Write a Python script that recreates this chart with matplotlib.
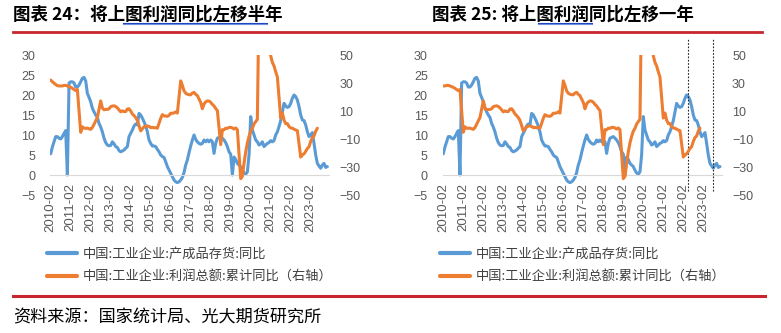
import numpy as np
import pandas as pd
import matplotlib
matplotlib.use("Agg")
import matplotlib.pyplot as plt
from matplotlib.lines import Line2D

plt.rcParams['font.family'] = ['Liberation Sans', 'Noto Sans CJK SC', 'DejaVu Sans']
plt.rcParams['axes.unicode_minus'] = True
CJK = ['Noto Sans CJK SC', 'DejaVu Sans']

# ---------------- data ----------------
# 中国:工业企业:产成品存货:同比, monthly 2010-02 .. 2023-12
inv_start = "2010-02"
inventory_yoy = [
    5.3, 7.0, 8.3, 9.6, 9.6, 9.2, 9.0, 9.6, 10.4, 11.1,
    0.0, 23.0,
    23.3, 23.3, 23.0, 22.0, 22.0, 22.5, 23.3, 24.2, 24.4, 23.5, 20.4, 19.4,
    18.3, 16.7, 15.8, 15.0, 14.4, 12.9, 12.0, 10.8, 9.2, 8.1, 7.5, 7.3,
    7.4, 8.3, 7.8, 7.1, 6.9, 6.1, 5.8, 6.0, 6.25, 6.7, 7.1, 9.6,
    10.4, 11.25, 12.25, 12.75, 12.5, 15.4, 15.0, 14.2, 13.3, 12.25, 10.8, 8.75,
    7.9, 7.25, 7.25, 7.1, 6.4, 5.8, 5.0, 4.6, 4.4, 3.3, 2.1, 1.25,
    0.4, -0.4, -1.25, -1.7, -1.9, -1.7, -1.25, -0.6, 0.6, 2.5, 3.75, 5.6,
    7.25, 8.75, 10.0, 8.9, 8.3, 7.9, 7.7, 7.9, 8.75, 8.3, 8.75, 8.3,
    8.75, 8.3, 5.4, 7.9, 9.2, 9.4, 9.6, 9.2, 8.75, 8.1, 7.1, 5.8,
    5.2, 0.0, 4.5, 3.9, 2.9, 2.5, 2.1, 1.2, 0.5, 0.2, 0.8, 5.0,
    14.6, 11.25, 10.0, 8.75, 8.3, 7.5, 7.75, 8.3, 7.1, 7.5, 7.9, 8.1,
    8.6, 8.3, 8.6, 10.0, 10.8, 12.1, 13.6, 15.8, 17.9, 17.25, 16.9, 17.1,
    17.9, 19.2, 20.0, 19.6, 18.75, 17.1, 15.0, 13.75, 13.6, 12.5, 10.8, 9.6,
    10.0, 10.6, 7.9, 5.0, 2.9, 2.25, 1.7, 2.5, 2.9, 1.9, 2.1,
]

# 中国:工业企业:利润总额:累计同比, monthly 2010-08 .. 2023-12 (January not published)
nan = np.nan
profit_start = "2010-08"
profit_yoy = [
    32.1, 31.0, 29.8, 29.0, 28.1,
    27.9, 27.9, 27.9, 28.3, 28.3, 27.9, 27.4, 26.9, 26.2, 25.3, 24.6, 25.4,
    nan, -5.2, -1.3, -2.2, -2.4, -2.2, -2.7, -3.1, -1.8, 0.5, 3.0, 5.3,
    nan, 17.2, 12.1, 10.9, 11.1, 11.1, 11.6, 13.1, 13.5, 13.7, 13.2, 12.2,
    nan, 9.4, 10.1, 9.6, 9.6, 11.4, 11.6, 10.0, 7.9, 6.7, 5.3, 3.3,
    nan, -4.2, -2.7, -1.3, -0.8, -0.7, -1.0, -1.9, -1.7, -2.0, -1.9, -2.3,
    nan, 4.8, 7.4, 6.5, 6.4, 6.2, 6.9, 8.4, 8.4, 8.6, 9.4, 8.5,
    nan, 31.5, 28.3, 24.4, 22.7, 22.0, 21.6, 21.6, 22.8, 23.3, 21.9, 21.0,
    nan, 16.1, 11.6, 15.0, 16.5, 17.2, 17.1, 16.2, 14.7, 13.6, 11.8, 10.3,
    nan, -14.0, -3.3, -3.4, -2.3, -2.4, -1.7, -1.7, -2.1, -2.9, -2.1, -3.3,
    nan, -38.3, -36.7, -27.4, -19.3, -12.8, -8.1, -4.4, -2.4, 0.7, 2.4, 4.1,
    nan, 178.9, 137.3, 106.0, 83.4, 66.9, 57.3, 49.5, 44.7, 42.2, 38.0, 34.3,
    nan, 5.0, 8.5, 3.5, 1.0, 1.0, -1.1, -2.1, -2.3, -3.0, -3.6, -4.0,
    nan, -22.9, -21.4, -20.6, -18.8, -16.8, -15.5, -11.7, -9.0, -7.8, -4.4, -2.3,
]

tick_labels = [f"{y}-02" for y in range(2010, 2024)]
shift_months = [6, 12]          # 左移半年 / 左移一年
marker_months = ["2022-05", "2023-08"]   # dotted guides in chart 25

titles = ["图表 24：将上图利润同比左移半年", "图表 25: 将上图利润同比左移一年"]
legend_labels = ["中国:工业企业:产成品存货:同比", "中国:工业企业:利润总额:累计同比（右轴）"]
source_text = "资料来源：国家统计局、光大期货研究所"

BLUE = "#5B9BD5"
ORANGE = "#ED7D31"
GRAY = "#595959"
RED = "#C8252D"

# ---------------- figure ----------------
W, H = 781, 333
fig = plt.figure(figsize=(W / 100, H / 100), dpi=100)

def fx(px):
    return px / W

def fy(py):
    return 1 - py / H

base = pd.Period(inv_start, freq="M")
inv_x = np.arange(len(inventory_yoy))
p0 = pd.Period(profit_start, freq="M")
profit_idx = np.array([(p0 + i - base).n for i in range(len(profit_yoy))])
profit_arr = np.array(profit_yoy, dtype=float)

XMIN, XMAX = -0.3, 167.0
ppm = 20 / 12.0
first_tick_px = [50.7, 443.3]
legend_x = [47, 440]

for k in range(2):
    left_px = first_tick_px[k] + XMIN * ppm
    width_px = (XMAX - XMIN) * ppm
    ax = fig.add_axes([fx(left_px), fy(195), width_px / W, 140 / H])
    ax2 = ax.twinx()
    ax.set_zorder(1)
    ax2.set_zorder(2)
    ax.patch.set_visible(False)
    ax2.patch.set_visible(False)

    l1, = ax.plot(inv_x, inventory_yoy, color=BLUE, lw=2.2,
                  solid_joinstyle="round", solid_capstyle="round")
    px_ = profit_idx - shift_months[k]
    m = (~np.isnan(profit_arr)) & (px_ >= 0)
    l2, = ax2.plot(px_[m], profit_arr[m], color=ORANGE, lw=2.2,
                   solid_joinstyle="round", solid_capstyle="round")

    for s in ax.spines.values():
        s.set_visible(False)
    for s in ax2.spines.values():
        s.set_visible(False)
    ax.spines["bottom"].set_visible(True)
    ax.spines["bottom"].set_position(("data", 0))
    ax.spines["bottom"].set_color("#D9D9D9")
    ax.spines["bottom"].set_linewidth(0.8)

    ax.set_xlim(XMIN, XMAX)
    ax2.set_xlim(XMIN, XMAX)
    ax.set_ylim(-5, 30)
    ax2.set_ylim(-50, 50)
    ax.set_yticks(np.arange(-5, 31, 5))
    ax2.set_yticks(np.arange(-50, 51, 20))
    ax.set_xticks(np.arange(0, 167, 12))
    ax.set_xticklabels(tick_labels)

    ax.tick_params(axis="x", length=0, pad=6, labelsize=9.5, labelcolor=GRAY,
                   labelrotation=90)
    ax.tick_params(axis="y", length=0, pad=10.8, labelsize=9, labelcolor=GRAY)
    ax2.tick_params(axis="y", length=0, pad=7.5, labelsize=9, labelcolor=GRAY)
    ax2.tick_params(axis="x", length=0, labelbottom=False)

    if k == 1:
        for mm in marker_months:
            xm = (pd.Period(mm, freq="M") - base).n
            ax.axvline(xm, ymin=(195 - 191) / 140, ymax=(195 - 38) / 140,
                       clip_on=False, color="#222222", lw=0.8,
                       ls=(0, (1.5, 1.5)), zorder=5)

    leg = fig.legend([l1, l2], legend_labels, loc="upper left",
                     bbox_to_anchor=(fx(legend_x[k]), fy(248)),
                     frameon=False, borderpad=0, borderaxespad=0,
                     handlelength=2.3, handletextpad=0.4, labelspacing=0.72,
                     prop={"family": CJK, "size": 9.5})
    for t in leg.get_texts():
        t.set_color("#404040")
    for h in leg.legend_handles:
        h.set_linewidth(3)

# titles
title_x = [13, 432]
for k in range(2):
    fig.text(fx(title_x[k]), fy(15), titles[k], fontsize=12.6, fontweight="bold",
             family=CJK, va="center", ha="left", color="black")

# underlines (hyperlink style)
for (x0, x1) in [(123, 267), (538, 592)]:
    fig.add_artist(Line2D([fx(x0), fx(x1)], [fy(22.7), fy(22.7)], color="#1F3FBF", lw=0.8))
    fig.add_artist(Line2D([fx(x0), fx(x1)], [fy(24.2), fy(24.2)], color="#6F8FE0", lw=0.8))

# red rules
fig.add_artist(Line2D([fx(13), fx(762)], [fy(32), fy(32)], color=RED, lw=2.0))
fig.add_artist(Line2D([fx(13), fx(765)], [fy(296), fy(296)], color=RED, lw=2.2))

fig.text(fx(13), fy(317), source_text, fontsize=12.3, family=CJK, va="center",
         ha="left", color="black")

fig.savefig("out.png", dpi=100)
